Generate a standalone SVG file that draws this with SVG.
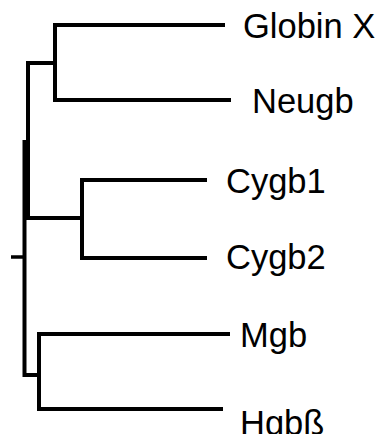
<svg xmlns="http://www.w3.org/2000/svg" width="381" height="434" viewBox="0 0 381 434">
<style>
.e{fill:none;stroke:#000;stroke-width:4;stroke-linecap:butt;stroke-linejoin:miter}
.t{font-family:"Liberation Sans",Arial,sans-serif;font-size:34.5px;fill:#000}
</style>
<rect width="381" height="434" fill="#fff"/>
<g id="connectors">
<path class="e" d="M225,25 H55 V100 H231"/>
<path class="e" d="M55,63 H28 V218"/>
<path class="e" d="M207,180 H82 V258 H207"/>
<path class="e" d="M82,218 H26"/>
<path class="e" d="M24.5,140 V375 H39"/>
<path class="e" d="M230,334 H39 V409 H223"/>
<path class="e" d="M11,257 H24" stroke-linecap="round" style="stroke-width:3.5"/>
</g>
<g id="globinx"><text class="t" x="243" y="38">Globin X</text></g>
<g id="neugb"><text class="t" x="252" y="113">Neugb</text></g>
<g id="cygb1"><text class="t" x="226" y="193">Cygb1</text></g>
<g id="cygb2"><text class="t" x="226" y="269">Cygb2</text></g>
<g id="mgb"><text class="t" x="240" y="347">Mgb</text></g>
<g id="hgbb"><text class="t" x="240" y="435">Hgbß</text></g>
</svg>
